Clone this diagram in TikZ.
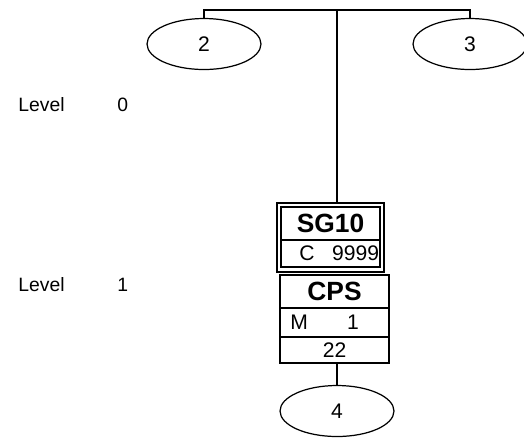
\documentclass[tikz,border=0pt]{standalone}
\usepackage{fontspec}
\setmainfont{Liberation Sans}
\usetikzlibrary{positioning,shapes.geometric}

\begin{document}
\begin{tikzpicture}[x=0.02cm,y=-0.02cm,
       node distance=0pt,
       every node/.style={font=\fontsize{12}{14}\selectfont}]

    \tikzstyle{subset}=[ellipse,draw,line width=0.7pt,minimum width=2.28cm,minimum height=1.02cm,inner sep=0pt]
    \tikzstyle{cell}=[draw,line width=1.1pt,outer sep=0pt,inner sep=0pt]
    \tikzstyle{title}=[font=\fontsize{15}{17}\selectfont\bfseries]
    \tikzstyle{link}=[line width=1.1pt]
    \tikzstyle{lvl}=[anchor=west,inner sep=0pt,font=\fontsize{11}{13}\selectfont]

    \useasboundingbox (0,0) rectangle (524,441);

    % subsets
    \node[subset] (s2) at (204,44) {2};
    \node[subset] (s3) at (470,44) {3};
    \node[subset] (s4) at (337,411) {4};

    % level labels
    \node[lvl] (lev0) at (18,105) {Level};
    \node[lvl] (lev0n) at (117,105) {0};
    \node[lvl] (lev1) at (18,285) {Level};
    \node[lvl] (lev1n) at (117,285) {1};

    % SG10 (double frame)
    \node[cell,minimum width=2.14cm,minimum height=1.38cm] (sgout) at (330.5,237.5) {};
    \node[cell,title,minimum width=1.98cm,minimum height=0.66cm] (sgtop) at (330.5,223.5) {SG10};
    \node[cell,minimum width=1.98cm,minimum height=0.54cm,below=of sgtop] (sgbot) {};
    \node[anchor=west,inner sep=0pt] (sgc) at ([xshift=0.36cm]sgbot.west) {C};
    \node[anchor=east,inner sep=0pt] (sgval) at ([xshift=-0.01cm]sgbot.east) {9999};

    % CPS
    \node[cell,title,minimum width=2.18cm,minimum height=0.66cm] (cps) at (334.5,291.5) {CPS};
    \node[cell,minimum width=2.18cm,minimum height=0.58cm,below=of cps] (cpsm) {};
    \node[cell,minimum width=2.18cm,minimum height=0.52cm,below=of cpsm] (cpsnum) {22};
    \node[anchor=west,inner sep=0pt] (cpsmk) at ([xshift=0.2cm]cpsm.west) {M};
    \node (cpsmv) at ([xshift=0.37cm]cpsm.center) {1};

    % connectors
    \coordinate (bar) at (337,10);
    \draw[link] (s2.north) |- (bar) -| (s3.north);
    \draw[link] (bar) -- (bar |- sgout.north);
    \draw[link] (s4.north |- cpsnum.south) -- (s4.north);

\end{tikzpicture}
\end{document}
